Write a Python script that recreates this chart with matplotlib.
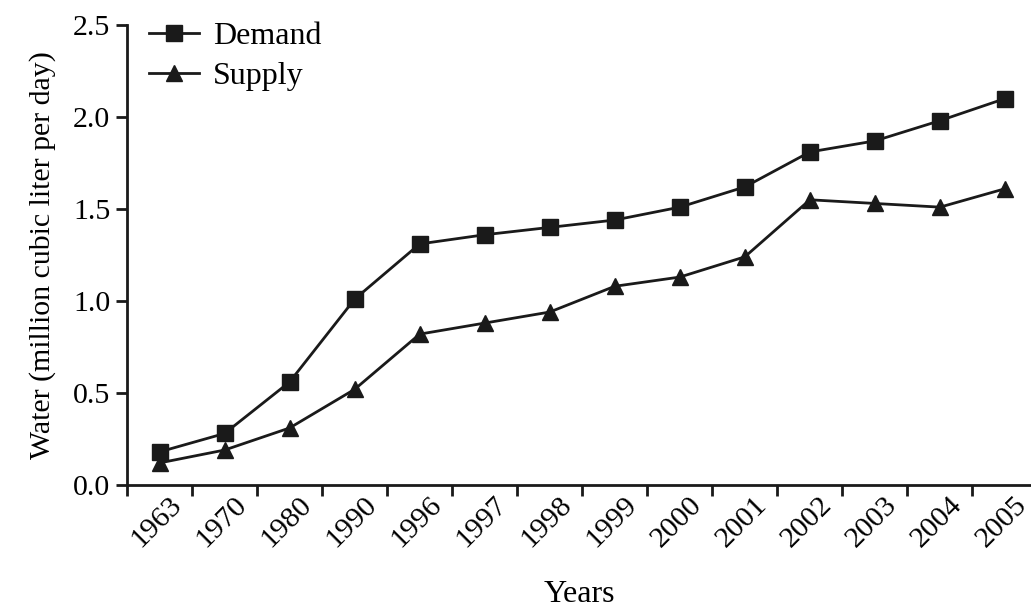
import matplotlib
matplotlib.use("Agg")
import matplotlib.pyplot as plt
import matplotlib.transforms as mtransforms
import numpy as np

years = ["1963", "1970", "1980", "1990", "1996", "1997", "1998", "1999",
         "2000", "2001", "2002", "2003", "2004", "2005"]
demand = [0.18, 0.28, 0.56, 1.01, 1.31, 1.36, 1.40, 1.44, 1.51, 1.62,
          1.81, 1.87, 1.98, 2.10]
supply = [0.12, 0.19, 0.31, 0.52, 0.82, 0.88, 0.94, 1.08, 1.13, 1.24,
          1.55, 1.53, 1.51, 1.61]

plt.rcParams["font.family"] = ["Liberation Serif", "DejaVu Serif"]
plt.rcParams["font.size"] = 21.5

ink = "#1a1a1a"
fig = plt.figure(figsize=(10.31, 6.09), dpi=100)
ax = fig.add_axes([0.1232, 0.2036, 0.8768, 0.7554])

x = np.arange(len(years))
ax.plot(x, demand, "s-", color=ink, lw=2, ms=12, label="Demand")
ax.plot(x, supply, "^-", color=ink, lw=2, ms=12, label="Supply")

ax.set_xlim(-0.5, 13.4)
ax.set_ylim(0, 2.5)
yt = np.arange(0, 2.51, 0.5)
ax.set_yticks(yt)
ax.set_yticklabels([f"{v:.1f}" for v in yt])

# category labels centred on points, tick marks between categories
ax.set_xticks(x)
ax.set_xticklabels(years, rotation=45, ha="right", rotation_mode="anchor")
ax.set_xticks(np.arange(-0.5, 13.4, 1.0), minor=True)
ax.tick_params(axis="x", which="major", length=0, pad=5)
ax.tick_params(axis="x", which="minor", length=8, width=2, direction="out",
               color=ink)
ax.tick_params(axis="y", length=8, width=2, direction="out", color=ink, pad=4)
shift = mtransforms.ScaledTranslation(9 / 100, 0, fig.dpi_scale_trans)
for lab in ax.get_xticklabels():
    lab.set_transform(lab.get_transform() + shift)

for side in ("top", "right"):
    ax.spines[side].set_visible(False)
for side in ("left", "bottom"):
    ax.spines[side].set_linewidth(2)
    ax.spines[side].set_color(ink)

ax.set_xlabel("Years", labelpad=20, fontsize=23)
ax.set_ylabel("Water (million cubic liter per day)", labelpad=12)

ax.legend(loc="upper left", bbox_to_anchor=(0.0, 1.055), frameon=False,
          fontsize=23, handlelength=1.55, handletextpad=0.45,
          labelspacing=0.32, borderaxespad=0.3)

fig.savefig("out.png", dpi=100)
